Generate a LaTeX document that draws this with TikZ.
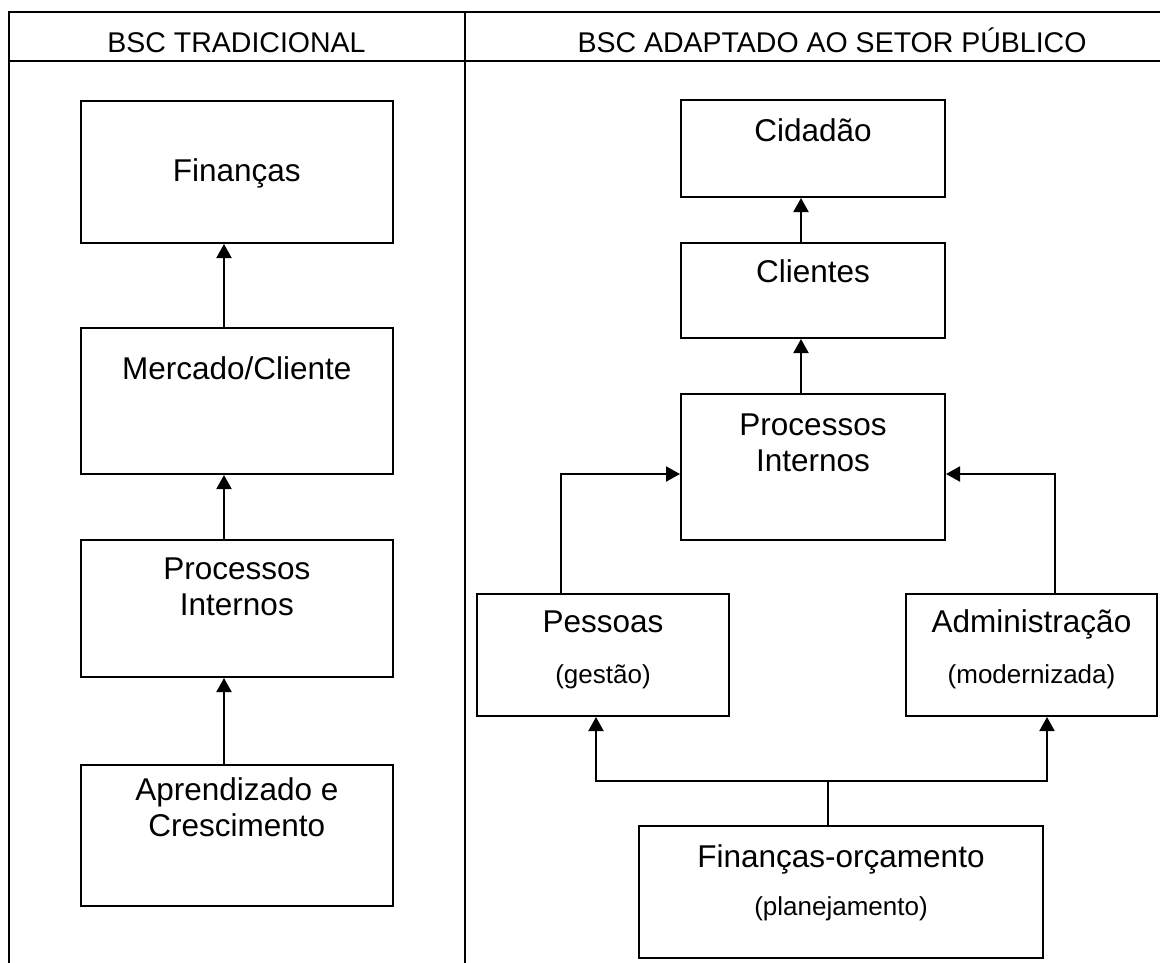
\documentclass[tikz,border=0pt]{standalone}
\usepackage{fontspec}
\setmainfont{Liberation Sans}
\usetikzlibrary{arrows.meta}
\begin{document}
\begin{tikzpicture}[x=1pt,y=-1pt,
  frame/.style={line width=2pt,black},
  box/.style={draw,line width=2pt,inner sep=0pt,rectangle},
  txt/.style={anchor=base,inner sep=0pt,font=\fontsize{31.5}{37}\selectfont},
  small/.style={anchor=base,inner sep=0pt,font=\fontsize{26}{30}\selectfont},
  head/.style={anchor=base,inner sep=0pt,font=\fontsize{28.5}{33}\selectfont},
  arr/.style={line width=2pt,-{Triangle[length=14pt,width=15pt]}},
  link/.style={line width=1.5pt}]
\useasboundingbox (0,0) rectangle (1160,962);
\clip (0,0) rectangle (1160,962);
% frame
\draw[frame] (8.5,980) -- (8.5,12) -- (1190,12);
\draw[frame] (8.5,61) -- (1190,61);
\draw[frame] (465,12) -- (465,980);
\node[head] (h1) at (236.5,52) {BSC TRADICIONAL};
\node[head] (h2) at (832,52) {BSC ADAPTADO AO SETOR PÚBLICO};
% left column
\node[box,minimum width=312.3pt,minimum height=142pt] (l1) at (236.85,172) {};
\node[box,minimum width=312.3pt,minimum height=146pt] (l2) at (236.85,401) {};
\node[box,minimum width=312.3pt,minimum height=137pt] (l3) at (236.85,608.5) {};
\node[box,minimum width=312.3pt,minimum height=141pt] (l4) at (236.85,835.5) {};
\node[txt] (t1) at (236.85,181) {Finanças};
\node[txt] (t2) at (236.85,379) {Mercado/Cliente};
\node[txt] (t3a) at (236.85,579) {Processos};
\node[txt] (t3b) at (236.85,615) {Internos};
\node[txt] (t4a) at (236.85,800) {Aprendizado e};
\node[txt] (t4b) at (236.85,836) {Crescimento};
\draw[arr] ([xshift=-12.85pt]l2.north) -- ([xshift=-12.85pt]l1.south);
\draw[arr] ([xshift=-12.85pt]l3.north) -- ([xshift=-12.85pt]l2.south);
\draw[arr] ([xshift=-12.85pt]l4.north) -- ([xshift=-12.85pt]l3.south);
% right column
\node[box,minimum width=264pt,minimum height=97pt] (cid) at (813,148.5) {};
\node[box,minimum width=264pt,minimum height=95pt] (cli) at (813,290.5) {};
\node[box,minimum width=264pt,minimum height=146pt] (proc) at (813,467) {};
\node[box,minimum width=252pt,minimum height=122pt] (pes) at (603,655) {};
\node[box,minimum width=251pt,minimum height=122pt] (adm) at (1031.5,655) {};
\node[box,minimum width=404pt,minimum height=132pt] (fino) at (841,892) {};
\node[txt] (tc) at (813,141) {Cidadão};
\node[txt] (tcl) at (813,282) {Clientes};
\node[txt] (tpa) at (813,435) {Processos};
\node[txt] (tpb) at (813,471) {Internos};
\node[txt] (tpe) at (603,632) {Pessoas};
\node[small] (tpe2) at (603,683) {(gestão)};
\node[txt] (tad) at (1031.5,632) {Administração};
\node[small] (tad2) at (1031.5,683) {(modernizada)};
\node[txt] (tfo) at (841,867) {Finanças-orçamento};
\node[small] (tfo2) at (841,915) {(planejamento)};
\draw[arr] ([xshift=-12pt]cli.north) -- ([xshift=-12pt]cid.south);
\draw[arr] ([xshift=-12pt]proc.north) -- ([xshift=-12pt]cli.south);
\draw[arr] ([xshift=-42pt]pes.north) |- ([yshift=-7pt]proc.west);
\draw[arr] ([xshift=23.5pt]adm.north) |- ([yshift=-7pt]proc.east);
\coordinate (j) at (828,781);
\draw[link] ([xshift=-13pt]fino.north) -- (j);
\draw[arr] (j) -| ([xshift=-7pt]pes.south);
\draw[arr] (j) -| ([xshift=15.5pt]adm.south);
\end{tikzpicture}
\end{document}
